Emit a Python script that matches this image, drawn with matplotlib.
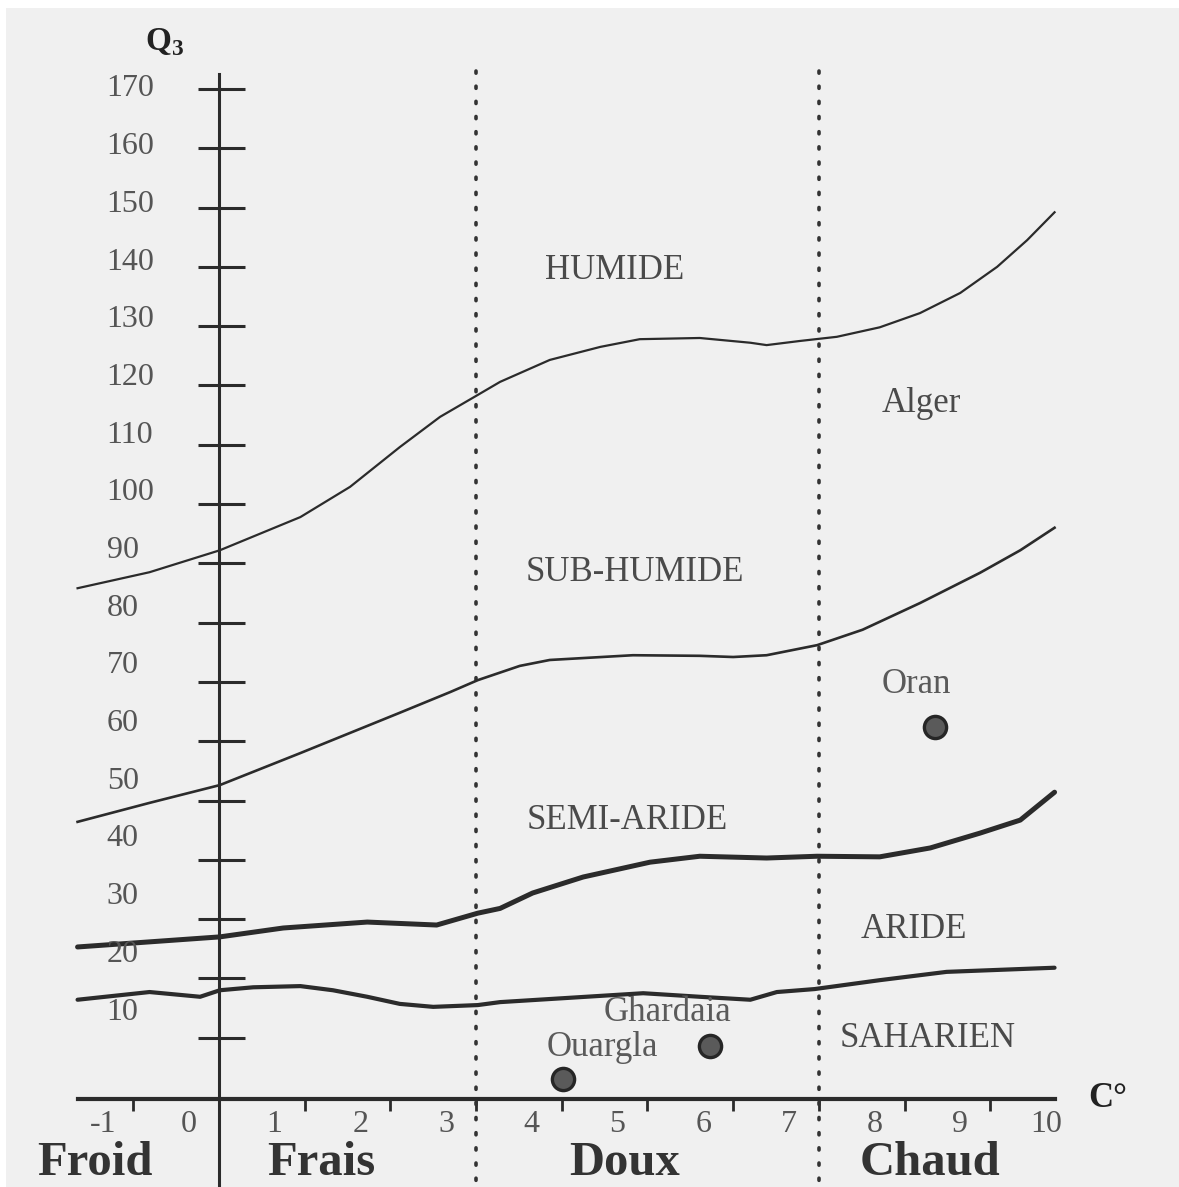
import matplotlib.pyplot as plt
from matplotlib.patches import Rectangle

# climagramme d'Emberger : Q3 en fonction de m (C°)
m_humide = [-1.65, -0.81, 0.01, 0.95, 1.53, 2.11, 2.58, 3.02, 3.28, 3.86, 4.45, 4.91,
            5.61, 6.20, 6.39, 6.78, 7.21, 7.71, 8.18, 8.65, 9.08, 9.43, 9.75]
q_humide = [85.8, 88.5, 92.2, 97.8, 102.9, 109.6, 114.7, 118.4, 120.6, 124.3, 126.5, 127.8,
            128.0, 127.2, 126.8, 127.5, 128.2, 129.8, 132.2, 135.6, 140.0, 144.5, 149.2]

m_subhumide = [-1.65, -0.81, 0.01, 0.95, 2.11, 2.70, 3.02, 3.51, 3.86, 4.83, 5.61, 6.00,
               6.39, 6.98, 7.51, 8.18, 8.88, 9.35, 9.75]
q_subhumide = [46.4, 49.6, 52.6, 58.0, 64.8, 68.3, 70.3, 72.7, 73.7, 74.5, 74.4, 74.2,
               74.5, 76.2, 78.8, 83.3, 88.4, 92.2, 96.0]

m_semiaride = [-1.65, 0.01, 0.75, 1.73, 2.54, 3.02, 3.28, 3.66, 4.25, 5.03, 5.61, 6.39,
               6.98, 7.71, 8.30, 8.88, 9.35, 9.75]
q_semiaride = [25.3, 27.0, 28.5, 29.5, 29.0, 31.0, 31.8, 34.4, 37.1, 39.6, 40.6, 40.3,
               40.6, 40.5, 42.0, 44.5, 46.7, 51.4]

m_aride = [-1.65, -0.81, -0.22, 0.01, 0.40, 0.95, 1.33, 1.73, 2.11, 2.50, 3.02, 3.28,
           4.06, 4.95, 5.61, 6.20, 6.51, 6.95, 7.71, 8.49, 9.75]
q_aride = [16.4, 17.7, 16.9, 18.0, 18.5, 18.7, 18.0, 16.9, 15.7, 15.2, 15.5, 16.0,
           16.7, 17.5, 16.9, 16.4, 17.7, 18.2, 19.7, 21.1, 21.8]

stations = ["Oran", "Ghardaia", "Ouargla"]
station_m = [8.35, 5.73, 4.01]
station_q = [62.4, 8.6, 3.0]
station_label_pos = [(8.14, 69.6), (5.23, 14.3), (4.47, 8.3)]

etages = ["HUMIDE", "SUB-HUMIDE", "SEMI-ARIDE", "ARIDE", "SAHARIEN", "Alger"]
etage_pos = [(4.62, 139.3), (4.85, 88.4), (4.76, 46.7), (8.11, 28.3), (8.27, 9.9), (8.19, 117.0)]

variantes = ["Froid", "Frais", "Doux", "Chaud"]
variante_m = [-1.45, 1.20, 4.73, 8.30]
limites_m = [3, 7]

y_ticks = list(range(10, 171, 10))
x_ticks = list(range(-1, 11))

ink = "#2b2b2b"
serif = "Liberation Serif"

fig = plt.figure(figsize=(11.79, 11.87), dpi=100)
fig.add_artist(Rectangle((6 / 1179, 0), 1, 1 - 8 / 1187, transform=fig.transFigure,
                         facecolor="#f0f0f0", edgecolor="none", zorder=-5))
ax = fig.add_axes([0, 0, 1, 1])
ax.set_xlim(-2.555, 11.202)
ax.set_ylim(-15.18, 185.0)
ax.axis("off")

# axes
ax.plot([0, 0], [172.5, -16], color=ink, lw=2.2)
ax.plot([-1.65, 9.75], [-0.3, -0.3], color=ink, lw=3)
ax.hlines(y_ticks, -0.25, 0.30, color=ink, lw=2.2)
ax.vlines([t for t in x_ticks if t < 10], -0.3, -2.4, color=ink, lw=2)
for m in limites_m:
    ax.plot([m, m], [173, -16], color="#333333", lw=2.6, linestyle=(0, (0.6, 3.6)),
            dash_capstyle="round")

# limites des étages
ax.plot(m_humide, q_humide, color=ink, lw=1.6)
ax.plot(m_subhumide, q_subhumide, color=ink, lw=1.9)
ax.plot(m_semiaride, q_semiaride, color=ink, lw=3.6, solid_capstyle="round")
ax.plot(m_aride, q_aride, color=ink, lw=3.0, solid_capstyle="round")

# graduations
for v in y_ticks:
    ax.text(-1.31, 170 - (170 - v) * 0.973, str(v), ha="left", va="center",
            fontsize=23, family=serif, color="#555555")
for v in x_ticks:
    ax.text(v - 0.35, -4.6, str(v), ha="center", va="center",
            fontsize=23, family=serif, color="#555555")

ax.text(-0.63, 177.9, r"Q$_\mathregular{3}$", ha="center", va="center",
        fontsize=24, family=serif, fontweight="bold", color="#222222")
ax.text(10.37, -0.2, "C°", ha="center", va="center",
        fontsize=25, family=serif, fontweight="bold", color="#222222")

for name, (m, q) in zip(etages, etage_pos):
    ax.text(m, q, name, ha="center", va="center", fontsize=25, family=serif, color="#4a4a4a")

ax.plot(station_m, station_q, "o", ms=16, mfc="#5a5a5a", mec="#262626", mew=2.4)
for name, (m, q) in zip(stations, station_label_pos):
    ax.text(m, q, name, ha="center", va="center", fontsize=25, family=serif, color="#5a5a5a")

for name, m in zip(variantes, variante_m):
    ax.text(m, -13.1, name, ha="center", va="baseline", fontsize=35, family=serif,
            fontweight="bold", color="#333333")

fig.savefig("out.png", dpi=100)
